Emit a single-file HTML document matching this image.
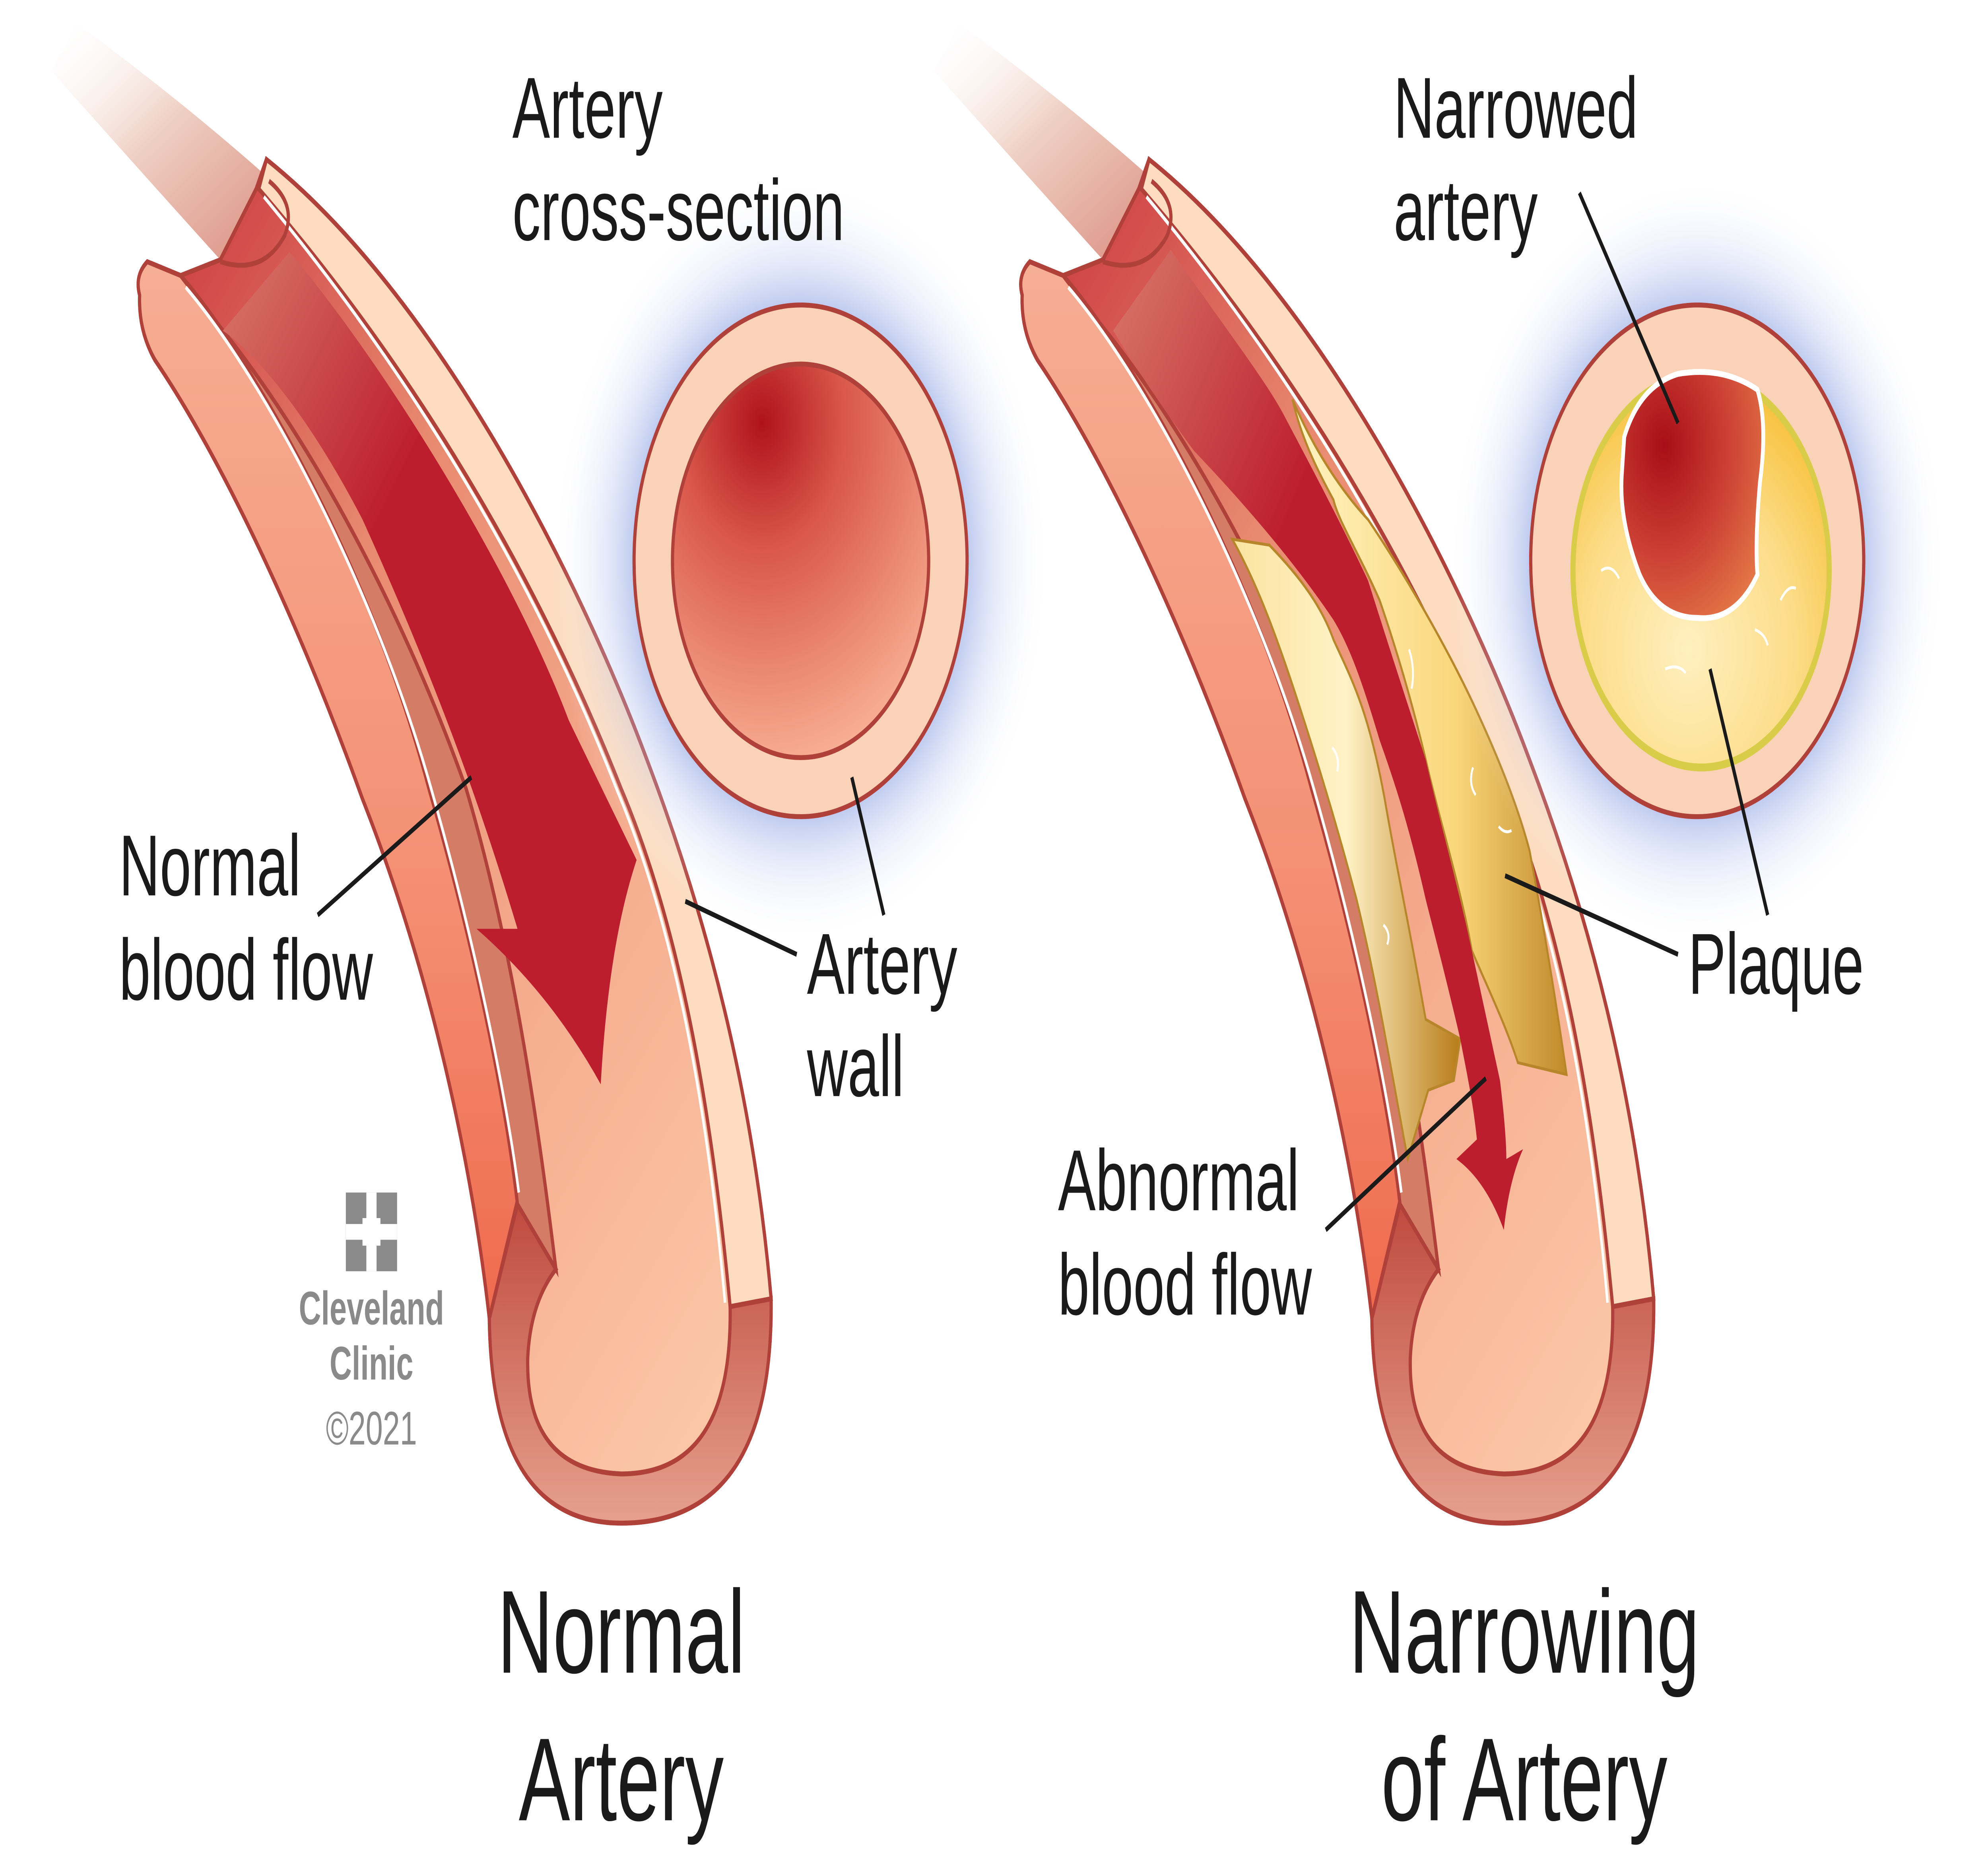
<!DOCTYPE html>
<html><head><meta charset="utf-8"><style>
html,body{margin:0;padding:0;background:#fff;width:100%;height:100%;overflow:hidden;}
svg{display:block;width:100vw;height:100vh;}
text{font-family:"Liberation Sans",sans-serif;fill:#1a1a1a;}
</style></head><body>
<svg viewBox="0 0 1552 939.6" preserveAspectRatio="none" xmlns="http://www.w3.org/2000/svg">
<defs>
<linearGradient id="pipe" x1="0" y1="0" x2="1" y2="1">
<stop offset="0" stop-color="#fff" stop-opacity="0"/><stop offset="0.45" stop-color="#efd0c4"/><stop offset="1" stop-color="#d98a7c"/></linearGradient>
<linearGradient id="lumen" x1="0" y1="0" x2="0.8" y2="1">
<stop offset="0" stop-color="#c8303a"/><stop offset="0.35" stop-color="#e88a70"/><stop offset="0.7" stop-color="#f6ae90"/><stop offset="1" stop-color="#fbc6a6"/></linearGradient>
<linearGradient id="wallL" x1="0" y1="0" x2="0" y2="1">
<stop offset="0" stop-color="#f6ae94"/><stop offset="0.6" stop-color="#f48e72"/><stop offset="1" stop-color="#ef6a4e"/></linearGradient>
<linearGradient id="bot" x1="0" y1="0" x2="0" y2="1">
<stop offset="0" stop-color="#bf4a3e"/><stop offset="1" stop-color="#e6a08e"/></linearGradient>
<linearGradient id="arr" x1="0" y1="0" x2="1" y2="1">
<stop offset="0" stop-color="#d8786a"/><stop offset="0.35" stop-color="#bd1e2e"/><stop offset="1" stop-color="#bd1e2e"/></linearGradient>
<radialGradient id="inner" cx="0.35" cy="0.15" r="0.9">
<stop offset="0" stop-color="#b0121c"/><stop offset="0.35" stop-color="#d9564a"/><stop offset="1" stop-color="#f9b296"/></radialGradient>
<radialGradient id="inner2" cx="0.3" cy="0.3" r="0.9">
<stop offset="0" stop-color="#a80e18"/><stop offset="0.5" stop-color="#cc4034"/><stop offset="1" stop-color="#e8804a"/></radialGradient>
<radialGradient id="glow" cx="0.5" cy="0.5" r="0.5">
<stop offset="0.6" stop-color="#7f95dd" stop-opacity="0.75"/><stop offset="0.78" stop-color="#b4c2ef" stop-opacity="0.35"/><stop offset="1" stop-color="#ffffff" stop-opacity="0"/></radialGradient>
<radialGradient id="plq" cx="0.45" cy="0.7" r="0.7">
<stop offset="0" stop-color="#fff0c0"/><stop offset="0.6" stop-color="#fcdc88"/><stop offset="1" stop-color="#f7c23e"/></radialGradient>
<linearGradient id="plqA" x1="0" y1="0" x2="1" y2="0">
<stop offset="0" stop-color="#fff4c4"/><stop offset="0.6" stop-color="#fad67a"/><stop offset="1" stop-color="#c08a2a"/></linearGradient>
<linearGradient id="plqB" x1="0" y1="0" x2="1" y2="0">
<stop offset="0" stop-color="#fbe3a0"/><stop offset="0.5" stop-color="#fff2c6"/><stop offset="1" stop-color="#b87c18"/></linearGradient>
<g id="artery">
<path d="M60,12 Q150,55 226,100 L172,132 Q100,80 40,36 Z" fill="url(#pipe)"/>
<path d="M109,150 Q105,140 115,133 L141,140 L172,132 L200,96 L208,81 C340,150 450,290 505,386 C560,480 590,570 602,660 Q604,774 485,774 Q384,772 382,670 C370,600 340,500 283,406 C230,310 170,230 121,183 Q108,168 109,150 Z" fill="url(#lumen)" stroke="#b0403a" stroke-width="2.5"/>
<path d="M109,150 Q105,140 115,133 L141,140 C200,185 290,290 335,401 C370,480 395,560 404,610 L382,670 C370,600 340,500 283,406 C230,310 170,230 121,183 Q108,168 109,150 Z" fill="url(#wallL)" stroke="#b0403a" stroke-width="2.5"/>
<path d="M141,140 L174,168 C250,230 320,320 364,401 C400,480 420,570 434,645 L404,612 C395,560 370,480 335,401 C290,290 200,185 141,140 Z" fill="#d47c66" stroke="#b0403a" stroke-width="2.5"/>
<path d="M145,146 C205,192 292,296 338,404 C372,482 396,560 405,606" fill="none" stroke="#fff" stroke-width="2"/>
<path d="M208,81 C340,150 450,290 505,386 C560,480 590,570 602,660 L570,664 C555,560 530,470 485,401 C430,310 340,200 202,96 Z" fill="#fddcc0" stroke="#b0403a" stroke-width="2.5"/>
<path d="M206,100 C340,205 428,312 482,402 C526,470 552,560 566,662" fill="none" stroke="#fff" stroke-width="2"/>
<path d="M382,670 Q384,774 485,774 Q604,774 602,660 L570,664 Q572,749 485,749 Q410,747 412,690 Q414,662 434,645 L404,612 Z" fill="url(#bot)" stroke="#b0403a" stroke-width="2.5"/>
<path d="M172,133 Q205,140 222,120 Q232,104 210,92" fill="none" stroke="#b0403a" stroke-width="2.5"/>
</g>
</defs>

<use href="#artery"/>
<path d="M226,128 C300,185 400,290 444,366 L497,437 Q475,480 469,551 Q430,505 372,472 L404,472 C380,420 347,356 283,264 C240,210 200,180 174,168 Z" fill="url(#arr)"/>

<circle cx="625" cy="285" r="195" fill="url(#glow)"/>
<circle cx="625" cy="285" r="130" fill="#fad2b8" stroke="#b0403a" stroke-width="2.5"/>
<circle cx="625" cy="285" r="100" fill="url(#inner)" stroke="#b0403a" stroke-width="2.5"/>

<g transform="translate(689,0)"><use href="#artery"/></g>
<path d="M962,274 L991,277 C1010,290 1030,305 1041,325 C1055,345 1068,360 1081,406 C1090,440 1100,470 1113,518 L1140,528 L1135,549 L1115,554 L1099,589 C1085,540 1075,500 1059,457 C1040,410 1020,370 1013,356 C995,320 980,295 962,274 Z" fill="url(#plqB)" stroke="#b8862a" stroke-width="1.5"/>
<path d="M1009,203 C1030,235 1055,255 1068,264 C1100,295 1130,330 1149,356 C1170,385 1185,410 1194,432 C1205,470 1215,510 1223,546 L1185,540 C1175,520 1160,500 1149,483 C1140,450 1125,420 1113,386 C1100,350 1085,320 1077,305 C1060,280 1045,265 1041,254 C1025,235 1015,220 1009,203 Z" fill="url(#plqA)" stroke="#b8862a" stroke-width="1.5"/>
<g stroke="#fff" stroke-width="1.5" fill="none">
<path d="M1100,330 q5,10 2,20"/><path d="M1150,390 q-4,8 2,14"/><path d="M1040,380 q6,4 4,12"/><path d="M1080,470 q6,4 3,10"/><path d="M1170,420 q5,4 10,2"/>
</g>
<path d="M914,127 C960,170 990,195 1004,213 C1030,245 1050,270 1068,295 C1085,330 1100,360 1113,386 C1125,420 1140,455 1149,483 C1158,510 1168,540 1171,549 C1174,565 1176,580 1176,589 L1189,584 Q1178,600 1174,625 Q1160,600 1137,589 L1153,579 C1150,560 1145,545 1140,528 C1130,500 1120,475 1113,457 C1100,420 1090,400 1077,376 C1065,350 1055,330 1041,315 C1010,285 970,255 932,229 C905,205 885,185 869,168 Z" fill="url(#arr)"/>

<circle cx="1325" cy="285" r="195" fill="url(#glow)"/>
<circle cx="1325" cy="285" r="130" fill="#fad2b8" stroke="#b0403a" stroke-width="2.5"/>
<circle cx="1328" cy="290" r="100" fill="url(#plq)" stroke="#d8cc48" stroke-width="4"/>
<path d="M1268,222 Q1280,196 1310,190 Q1345,186 1372,198 Q1380,215 1374,245 Q1370,275 1372,292 Q1355,316 1325,314 Q1295,314 1280,292 Q1264,265 1266,242 Z" fill="url(#inner2)" stroke="#fff" stroke-width="3"/>
<g stroke="#fff" stroke-width="1.5" fill="none">
<path d="M1250,290 q8,-4 14,4"/><path d="M1390,305 q6,-8 12,-6"/><path d="M1300,340 q10,-3 16,2"/><path d="M1370,320 q8,2 10,8"/>
</g>

<g stroke="#1a1a1a" stroke-width="2.5">
<line x1="248" y1="465" x2="368" y2="395"/>
<line x1="665" y1="395" x2="690" y2="465"/>
<line x1="535" y1="458" x2="622" y2="485"/>
<line x1="1233" y1="98" x2="1310" y2="215"/>
<line x1="1335" y1="340" x2="1380" y2="465"/>
<line x1="1175" y1="445" x2="1310" y2="485"/>
<line x1="1035" y1="625" x2="1160" y2="548"/>
</g>

<g font-size="44">
<text x="400" y="70">Artery</text><text x="400" y="122">cross-section</text>
<text x="93" y="455">Normal</text><text x="93" y="508">blood flow</text>
<text x="630" y="505">Artery</text><text x="630" y="557">wall</text>
<text x="1088" y="70">Narrowed</text><text x="1088" y="122">artery</text>
<text x="1318" y="505">Plaque</text>
<text x="826" y="615">Abnormal</text><text x="826" y="668">blood flow</text>
</g>
<g font-size="60" text-anchor="middle">
<text x="485" y="850">Normal</text><text x="485" y="925">Artery</text>
<text x="1190" y="850">Narrowing</text><text x="1190" y="925">of Artery</text>
</g>
<rect x="270" y="606" width="40" height="40" fill="#8a8a8a"/>
<rect x="283" y="619" width="14" height="14" fill="#fff"/>
<rect x="286" y="606" width="8" height="40" fill="#fff"/>
<rect x="270" y="622" width="40" height="8" fill="#fff"/>
<g font-size="24" text-anchor="middle" font-weight="bold">
<text x="290" y="673" style="fill:#8a8a8a">Cleveland</text>
<text x="290" y="701" style="fill:#8a8a8a">Clinic</text>
</g>
<text x="290" y="734" font-size="24" text-anchor="middle" style="fill:#8a8a8a">©2021</text>
</svg>
</body></html>
